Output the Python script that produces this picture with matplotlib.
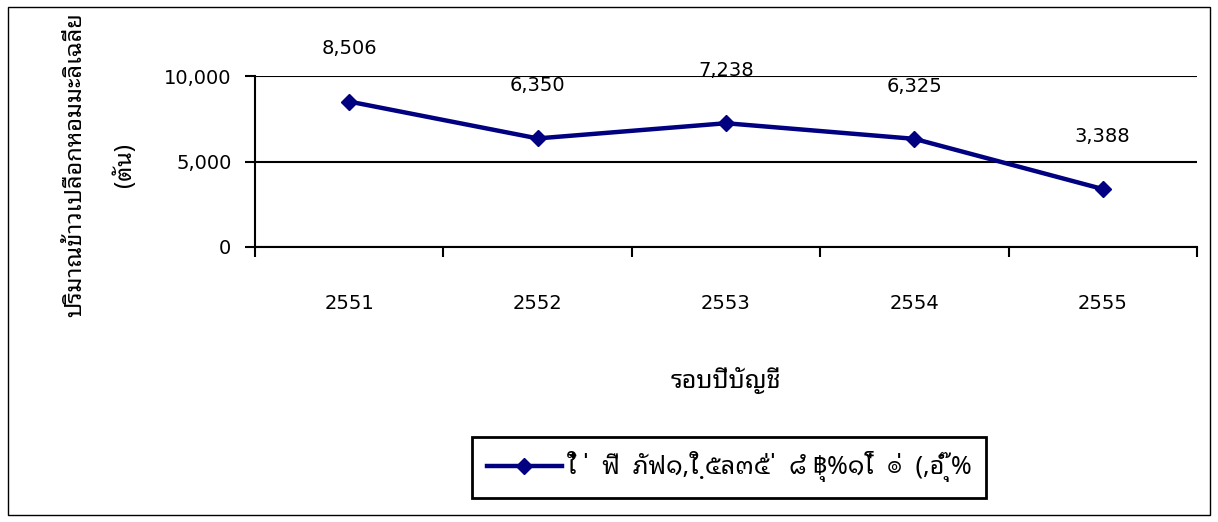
import matplotlib
matplotlib.use("Agg")
import matplotlib.pyplot as plt
from matplotlib import font_manager
from matplotlib.ft2font import FT2Font
from matplotlib.lines import Line2D
from matplotlib.patches import Rectangle

# ---- data ----
years = ["2551", "2552", "2553", "2554", "2555"]
tonnes = [8506, 6350, 7238, 6325, 3388]
y_ticks = [0, 5000, 10000]
y_title = "ปริมาณข้าวเปลือกหอมมะลิเฉลี่ย"
y_unit = "(ตัน)"
x_title = "รอบปีบัญชี"
series_name = "ใ๋  ่  ฟื  ภัฟ๑,ใํ ฺ๕ล๓๕่ ่  ๘ํ ฿ุ%๑โ๋  ๏่  (,อํ ุ๊%"


def thai_font():
    """Pick an installed font family that covers Thai script."""
    preferred = ["Noto Sans Thai Looped", "Noto Sans Thai", "Noto Serif Thai",
                 "Garuda", "Loma", "Kinnari", "Norasi", "Tlwg Typo",
                 "Sawasdee", "Umpush"]
    found = {}
    for f in font_manager.fontManager.ttflist:
        try:
            cmap = FT2Font(f.fname).get_charmap()
        except Exception:
            continue
        if 0x0E01 in cmap and 0x0E32 in cmap:
            found.setdefault(f.name, f.fname)
    for p in preferred:
        if p in found:
            return p
    return next(iter(found), "DejaVu Sans")


THAI = thai_font()
plt.rcParams["font.family"] = [THAI, "DejaVu Sans"]
NUM_FONT = ["DejaVu Sans"]

fig = plt.figure(figsize=(12.18, 5.22), dpi=100)
W, H = 1218, 522

# outer frame around the chart area
fig.patches.append(Rectangle((8 / W, 7 / H), 1202 / W, 508 / H,
                             transform=fig.transFigure, fill=False,
                             edgecolor="black", linewidth=1.0))

ax = fig.add_axes([255 / W, 1 - 247 / H, 942 / W, 171 / H])
x = list(range(len(years)))
ax.plot(x, tonnes, color="#000080", linewidth=3.2, marker="D",
        markersize=8, markerfacecolor="#000080", markeredgecolor="#000080",
        zorder=3, clip_on=False)

for xi, v in zip(x, tonnes):
    ax.annotate(f"{v:,}", (xi, v), xytext=(0, 38), textcoords="offset points",
                ha="center", va="center", fontsize=14, family=NUM_FONT,
                annotation_clip=False)

ax.set_xlim(-0.5, len(years) - 0.5)
ax.set_ylim(0, 10000)
ax.set_yticks(y_ticks)
ax.set_yticklabels([f"{t:,}" for t in y_ticks], family=NUM_FONT, fontsize=14)
ax.set_xticks(x)
ax.set_xticklabels(years, family=NUM_FONT, fontsize=14)
ax.set_xticks([i - 0.5 for i in range(len(years) + 1)], minor=True)
ax.tick_params(axis="x", which="major", length=0, pad=34)
ax.tick_params(axis="x", which="minor", length=7, width=1.5, direction="out")
ax.tick_params(axis="y", length=7, width=1.5, direction="out", pad=10)

for s in ["top", "right"]:
    ax.spines[s].set_visible(False)
for s in ["left", "bottom"]:
    ax.spines[s].set_linewidth(1.5)
ax.yaxis.grid(True, color="black", linewidth=1.5)
ax.set_axisbelow(True)

fig.text(726 / W, 1 - 380 / H, x_title, ha="center", va="center", fontsize=18)
fig.text(75 / W, 1 - 165 / H, y_title, ha="center", va="center",
         rotation=90, fontsize=17)
fig.text(125 / W, 1 - 165 / H, y_unit, ha="center", va="center",
         rotation=90, fontsize=17)

handle = Line2D([], [], color="#000080", linewidth=3.2, marker="D",
                markersize=8, markerfacecolor="#000080")
leg = fig.legend([handle], [series_name], loc="center",
                 bbox_to_anchor=(729 / W, 1 - 467 / H), fontsize=18,
                 handlelength=3.0, handletextpad=0.2, fancybox=False,
                 framealpha=1, edgecolor="black", borderpad=0.6,
                 borderaxespad=0)
leg.get_frame().set_linewidth(2.0)

fig.savefig("out.png", dpi=100)
